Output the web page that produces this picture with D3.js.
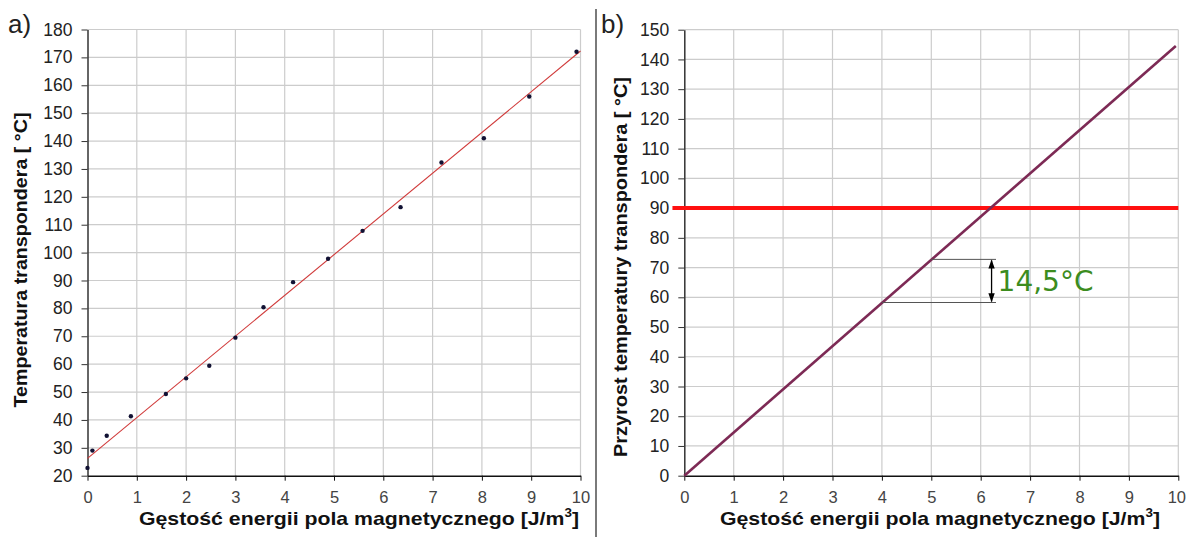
<!DOCTYPE html>
<html>
<head>
<meta charset="utf-8">
<script src="https://cdn.jsdelivr.net/npm/d3@7"></script>
<style>
  body { margin: 0; background: #fff; }
  svg { display: block; font-family: "Liberation Sans", Arial, sans-serif; }
</style>
</head>
<body>
<div id="chart"></div>
<script>
// measured points, panel a)
var xMeas = [0, 0.1, 0.39, 0.88, 1.59, 2.0, 2.47, 3.0, 3.57, 4.17, 4.88, 5.58, 6.35, 7.18, 8.04, 8.96, 9.92];
var yMeas = [22.8, 29.0, 34.3, 41.3, 49.3, 54.9, 59.4, 69.5, 80.4, 89.4, 97.8, 107.8, 116.3, 132.3, 141.0, 156.0, 172.0];
// linear trend, panel a)
var trendX = [0, 10];
var trendY = [26.2, 172.3];
// temperature rise, panel b)
var riseX = [0, 9.95];
var riseY = [0, 144.5];
var limitY = 90;
var limitX = [-0.24, 10];
// step annotation
var stepX = [4.0, 5.0];
var stepY = [58.25, 72.75];
var stepEndX = 6.31;
var arrowX = 6.22;
var stepLabel = "14,5°C";

var xTicks = d3.range(0, 11, 1);
var yTicksA = d3.range(20, 181, 10);
var yTicksB = d3.range(0, 151, 10);

var W = 1186, H = 537;
var svg = d3.select("#chart").append("svg")
    .attr("width", W)
    .attr("height", H);

svg.append("defs").append("marker")
    .attr("id", "ah")
    .attr("viewBox", "0 0 10 10")
    .attr("refX", 9).attr("refY", 5)
    .attr("markerWidth", 7).attr("markerHeight", 7)
    .attr("orient", "auto-start-reverse")
    .append("path")
    .attr("d", "M0,1.5 L10,5 L0,8.5 z")
    .attr("fill", "#000");

// separator between panels
svg.append("line")
    .attr("x1", 596).attr("x2", 596)
    .attr("y1", 9).attr("y2", H)
    .attr("stroke", "#7a7a7a")
    .attr("stroke-width", 2);

function panel(x, y, yTicks, opt) {
    var g = svg.append("g");

    // grid
    g.selectAll(".gx").data(xTicks.slice(1)).enter().append("line")
        .attr("x1", function(d){ return x(d) }).attr("x2", function(d){ return x(d) })
        .attr("y1", y.range()[0]).attr("y2", y.range()[1])
        .attr("stroke", "#cccccc").attr("stroke-width", 1.2);
    g.selectAll(".gy").data(yTicks.slice(1)).enter().append("line")
        .attr("x1", x.range()[0]).attr("x2", x.range()[1])
        .attr("y1", function(d){ return y(d) }).attr("y2", function(d){ return y(d) })
        .attr("stroke", "#cccccc").attr("stroke-width", 1.2);

    // axes
    var ax = g.append("g")
        .attr("transform", "translate(0," + y.range()[0] + ")")
        .call(d3.axisBottom(x).tickValues(xTicks).tickSize(5).tickSizeOuter(0).tickPadding(11));
    ax.select(".domain").attr("stroke", "#111").attr("stroke-width", 1.5);
    ax.selectAll(".tick line").attr("stroke", "#111");
    ax.selectAll("text").attr("font-size", 16.5).attr("fill", "#444");
    if (opt.lastTickShift) {
        ax.selectAll(".tick").filter(function(d){ return d === 10 })
            .select("text").attr("dx", opt.lastTickShift);
    }

    var ay = g.append("g")
        .attr("transform", "translate(" + x.range()[0] + ",0)")
        .call(d3.axisLeft(y).tickValues(yTicks).tickSize(6).tickSizeOuter(0).tickPadding(9));
    ay.select(".domain").attr("stroke", "#333").attr("stroke-width", 1.5);
    ay.selectAll(".tick line").attr("stroke", "#333");
    ay.selectAll("text").attr("font-size", 17.5).attr("fill", "#222");

    // panel letter
    g.append("text")
        .attr("x", opt.letterX).attr("y", 33)
        .attr("font-size", 26).attr("fill", "#222")
        .text(opt.letter);

    // axis titles
    var xl = g.append("text")
        .attr("x", opt.xLabelC)
        .attr("y", 525)
        .attr("text-anchor", "middle")
        .attr("font-size", 19).attr("font-weight", "bold").attr("fill", "#111")
        .attr("textLength", 440).attr("lengthAdjust", "spacingAndGlyphs");
    xl.append("tspan").text("Gęstość energii pola magnetycznego [J/m");
    xl.append("tspan").attr("dy", -8).attr("font-size", 12).text("3");
    xl.append("tspan").attr("dy", 8).text("]");

    g.append("text")
        .attr("transform", "translate(" + opt.yLabelX + "," + opt.yLabelC + ") rotate(-90)")
        .attr("text-anchor", "middle")
        .attr("font-size", 17.5).attr("font-weight", "bold").attr("fill", "#111")
        .attr("textLength", opt.yLabelLen).attr("lengthAdjust", "spacingAndGlyphs")
        .text(opt.yLabel);
    return g;
}

// ---- panel a)
var xa = d3.scaleLinear().domain([0, 10]).range([87.5, 580.5]);
var ya = d3.scaleLinear().domain([20, 180]).range([475.7, 29.5]);
var ga = panel(xa, ya, yTicksA, {
    letter: "a)", letterX: 8,
    xLabelC: 359,
    yLabel: "Temperatura transpondera [ °C]", yLabelX: 27, yLabelC: 260, yLabelLen: 295
});

ga.append("line")
    .attr("x1", xa(trendX[0])).attr("y1", ya(trendY[0]))
    .attr("x2", xa(trendX[1])).attr("y2", ya(trendY[1]))
    .attr("stroke", "#d03a3a").attr("stroke-width", 1.1);

ga.selectAll(".pt").data(xMeas).enter().append("circle")
    .attr("cx", function(d){ return xa(d) })
    .attr("cy", function(d, i){ return ya(yMeas[i]) })
    .attr("r", 2.2)
    .attr("fill", "#111133");

// ---- panel b)
var xb = d3.scaleLinear().domain([0, 10]).range([684.3, 1178.3]);
var yb = d3.scaleLinear().domain([0, 150]).range([475.7, 29.7]);
var gb = panel(xb, yb, yTicksB, {
    letter: "b)", letterX: 601,
    xLabelC: 940, lastTickShift: -2,
    yLabel: "Przyrost temperatury transpondera [ °C]", yLabelX: 627, yLabelC: 267, yLabelLen: 380
});

gb.append("line")
    .attr("x1", xb(limitX[0])).attr("x2", xb(limitX[1]))
    .attr("y1", yb(limitY)).attr("y2", yb(limitY))
    .attr("stroke", "#ff1010").attr("stroke-width", 4);

gb.append("line")
    .attr("x1", xb(riseX[0])).attr("y1", yb(riseY[0]))
    .attr("x2", xb(riseX[1])).attr("y2", yb(riseY[1]))
    .attr("stroke", "#7d2a55").attr("stroke-width", 2.6);

// step annotation
gb.selectAll(".step").data([0, 1]).enter().append("line")
    .attr("x1", function(i){ return xb(stepX[i]) })
    .attr("x2", xb(stepEndX))
    .attr("y1", function(i){ return yb(stepY[i]) })
    .attr("y2", function(i){ return yb(stepY[i]) })
    .attr("stroke", "#555").attr("stroke-width", 1);

gb.append("line")
    .attr("x1", xb(arrowX)).attr("x2", xb(arrowX))
    .attr("y1", yb(stepY[1]) + 1).attr("y2", yb(stepY[0]) - 1)
    .attr("stroke", "#000").attr("stroke-width", 1.3)
    .attr("marker-start", "url(#ah)")
    .attr("marker-end", "url(#ah)");

gb.append("text")
    .attr("x", xb(arrowX) + 6)
    .attr("y", (yb(stepY[0]) + yb(stepY[1])) / 2 + 10)
    .attr("font-family", "DejaVu Sans, Verdana, sans-serif")
    .attr("font-size", 28).attr("fill", "#3c8c1e")
    .text(stepLabel);
</script>
</body>
</html>
